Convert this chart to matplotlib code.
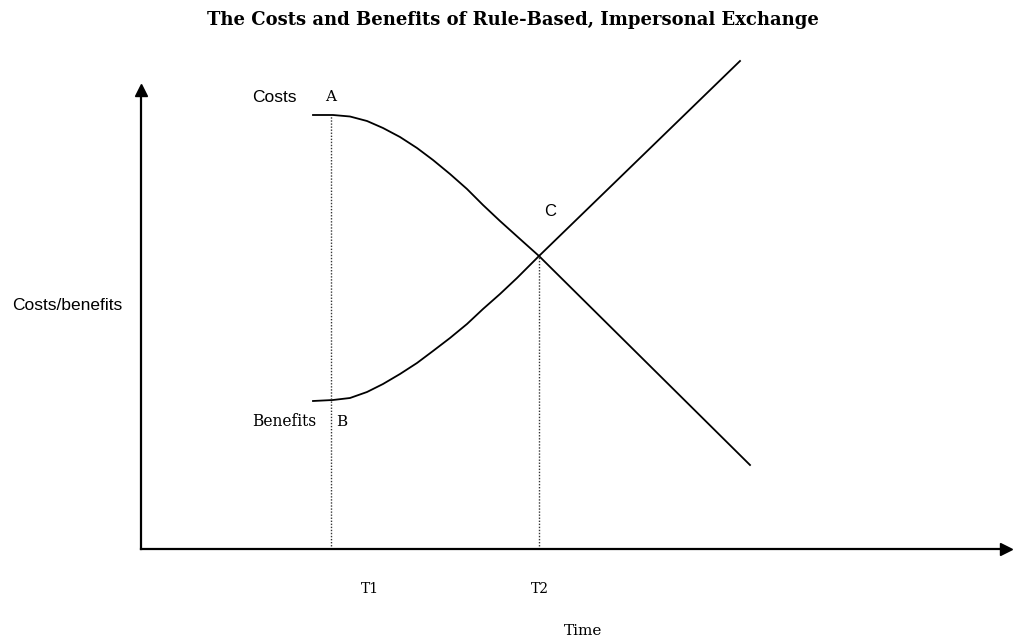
import matplotlib.pyplot as plt
import numpy as np

# values (time units along x, cost/benefit units along y)
costs_t = [172, 192, 209, 226, 242, 259, 276, 292, 309, 326, 342, 359, 379, 398, 609]
costs_v = [434, 434, 432.5, 428, 421, 412, 401, 389, 375, 360, 344, 328, 310, 293, 84]
benefits_t = [172, 192, 209, 226, 242, 259, 276, 292, 309, 326, 342, 359, 376, 398, 599]
benefits_v = [148, 149, 151, 157, 165, 175, 186, 198, 211, 225, 240, 255, 271, 293, 488]
T1 = 190
T2 = 398
A_val = 434
C_val = 293

plt.rcParams['font.family'] = ['DejaVu Serif']
SANS = ['Liberation Sans', 'DejaVu Sans']

fig = plt.figure(figsize=(10.13, 6.39), dpi=100)
W, H = 1013, 639
ax = fig.add_axes([141 / W, (H - 549) / H, (1006 - 141) / W, (549 - 90) / H])
ax.set_xlim(0, 865)
ax.set_ylim(0, 459)

ax.plot(costs_t, costs_v, color='black', lw=1.3, clip_on=False, solid_joinstyle='round')
ax.plot(benefits_t, benefits_v, color='black', lw=1.3, clip_on=False, solid_joinstyle='round')

# dotted guides
ax.plot([T1, T1], [0, A_val], color='#333333', lw=1.0, ls=(0, (1, 1.2)))
ax.plot([T2, T2], [0, C_val], color='#333333', lw=1.0, ls=(0, (1, 1.2)))

for s in ['top', 'right']:
    ax.spines[s].set_visible(False)
for s in ['left', 'bottom']:
    ax.spines[s].set_linewidth(1.6)
ax.set_xticks([])
ax.set_yticks([])
ax.patch.set_alpha(0)

# arrow heads
ax.plot([0], [1], marker='^', ms=8, color='black', transform=ax.transAxes, clip_on=False)
ax.plot([1], [0], marker='>', ms=8, color='black', transform=ax.transAxes, clip_on=False)

fs = 11
ax.text(T1 - 57, A_val + 17, 'Costs', fontsize=12.5, family=SANS, ha='center', va='center')
ax.text(T1, A_val + 18, 'A', fontsize=fs, ha='center', va='center')
ax.text(T1 - 47, 127, 'Benefits', fontsize=11.2, ha='center', va='center')
ax.text(T1 + 11, 127, 'B', fontsize=fs, ha='center', va='center')
ax.text(T2 + 11, 337, 'C', fontsize=12, family=SANS, ha='center', va='center')
ax.text(T1 + 39, -40, 'T1', fontsize=10, ha='center', va='center', clip_on=False)
ax.text(T2 + 1, -40, 'T2', fontsize=10, ha='center', va='center', clip_on=False)

fig.text(583 / W, 1 - 631 / H, 'Time', fontsize=11, ha='center', va='center')
fig.text(67 / W, 1 - 305 / H, 'Costs/benefits', fontsize=12.5, family=SANS, ha='center', va='center')
fig.text(513 / W, 1 - 20 / H, 'The Costs and Benefits of Rule-Based, Impersonal Exchange',
         fontsize=13, fontweight='bold', ha='center', va='center')

fig.savefig('out.png', dpi=100, facecolor='white')
